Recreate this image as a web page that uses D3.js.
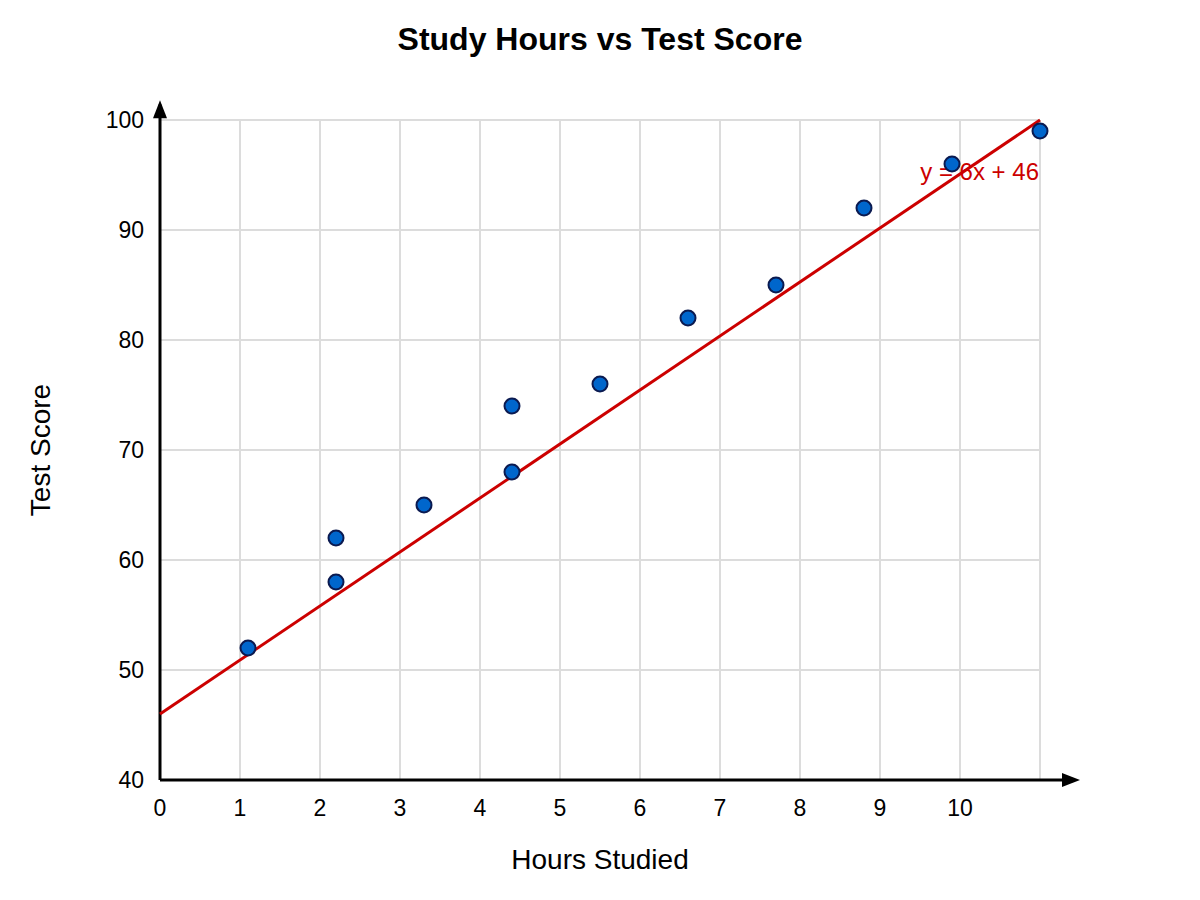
<!DOCTYPE html>
<html>
<head>
<meta charset="utf-8">
<script src="https://cdn.jsdelivr.net/npm/d3@7"></script>
<style>
  body { margin: 0; background: #fff; }
  svg { font-family: "Liberation Sans", Arial, sans-serif; }
</style>
</head>
<body>
<svg id="chart" width="1200" height="900"></svg>
<script>
// --- Data ---
const hours = [1.1, 2.2, 2.2, 3.3, 4.4, 4.4, 5.5, 6.6, 7.7, 8.8, 9.9, 11];
const scores = [52, 58, 62, 65, 68, 74, 76, 82, 85, 92, 96, 99];
const fitX = [0, 11];
const fitY = [46, 100];
const xTicks = [0, 1, 2, 3, 4, 5, 6, 7, 8, 9, 10];
const yTicks = [40, 50, 60, 70, 80, 90, 100];
const xGrid = [1, 2, 3, 4, 5, 6, 7, 8, 9, 10, 11];
const yGrid = [50, 60, 70, 80, 90, 100];
const fitLabel = "y = 6x + 46";

const svg = d3.select("#chart");

// --- Scales ---
const x = d3.scaleLinear().domain([0, 10]).range([160, 960]);
const y = d3.scaleLinear().domain([40, 100]).range([780, 120]);

// --- Grid ---
svg.append("g").selectAll("line")
  .data(xGrid)
  .join("line")
  .attr("x1", d => x(d)).attr("x2", d => x(d))
  .attr("y1", y(40)).attr("y2", y(100))
  .attr("stroke", "#dcdcdc")
  .attr("stroke-width", 2);

svg.append("g").selectAll("line")
  .data(yGrid)
  .join("line")
  .attr("x1", x(0)).attr("x2", x(11))
  .attr("y1", d => y(d)).attr("y2", d => y(d))
  .attr("stroke", "#dcdcdc")
  .attr("stroke-width", 2);

// --- Axes with arrows ---
svg.append("line")
  .attr("x1", x(0)).attr("x2", x(11.35))
  .attr("y1", y(40)).attr("y2", y(40))
  .attr("stroke", "#000").attr("stroke-width", 3);
svg.append("path")
  .attr("d", `M${x(11.5)},${y(40)} L${x(11.5) - 18},${y(40) - 7} L${x(11.5) - 18},${y(40) + 7} Z`)
  .attr("fill", "#000");

svg.append("line")
  .attr("x1", x(0)).attr("x2", x(0))
  .attr("y1", y(40)).attr("y2", y(101.4))
  .attr("stroke", "#000").attr("stroke-width", 3);
svg.append("path")
  .attr("d", `M${x(0)},${y(101.8)} L${x(0) - 7},${y(101.8) + 18} L${x(0) + 7},${y(101.8) + 18} Z`)
  .attr("fill", "#000");

// --- Tick labels ---
svg.append("g").selectAll("text")
  .data(xTicks)
  .join("text")
  .attr("x", d => x(d))
  .attr("y", y(40) + 36)
  .attr("text-anchor", "middle")
  .attr("font-size", 23)
  .attr("fill", "#000")
  .text(d => d);

svg.append("g").selectAll("text")
  .data(yTicks)
  .join("text")
  .attr("x", x(0) - 16)
  .attr("y", d => y(d) + 8)
  .attr("text-anchor", "end")
  .attr("font-size", 23)
  .attr("fill", "#000")
  .text(d => d);

// --- Fit label ---
svg.append("text")
  .attr("x", 1039)
  .attr("y", 180)
  .attr("text-anchor", "end")
  .attr("font-size", 24)
  .attr("fill", "#cc0000")
  .text(fitLabel);

// --- Fit line ---
const line = d3.line()
  .x(d => x(d[0]))
  .y(d => y(d[1]));

svg.append("path")
  .datum(d3.zip(fitX, fitY))
  .attr("d", line)
  .attr("fill", "none")
  .attr("stroke", "#cc0000")
  .attr("stroke-width", 3);

// --- Points ---
svg.append("g").selectAll("circle")
  .data(d3.zip(hours, scores))
  .join("circle")
  .attr("cx", d => x(d[0]))
  .attr("cy", d => y(d[1]))
  .attr("r", 7.5)
  .attr("fill", "#0066cc")
  .attr("stroke", "#0b1a50")
  .attr("stroke-width", 2);

// --- Titles ---
svg.append("text")
  .attr("x", 600)
  .attr("y", 50)
  .attr("text-anchor", "middle")
  .attr("font-size", 32)
  .attr("font-weight", "bold")
  .text("Study Hours vs Test Score");

svg.append("text")
  .attr("x", 600)
  .attr("y", 869)
  .attr("text-anchor", "middle")
  .attr("font-size", 28)
  .text("Hours Studied");

svg.append("text")
  .attr("transform", "translate(50,450) rotate(-90)")
  .attr("text-anchor", "middle")
  .attr("font-size", 28)
  .text("Test Score");
</script>
</body>
</html>
